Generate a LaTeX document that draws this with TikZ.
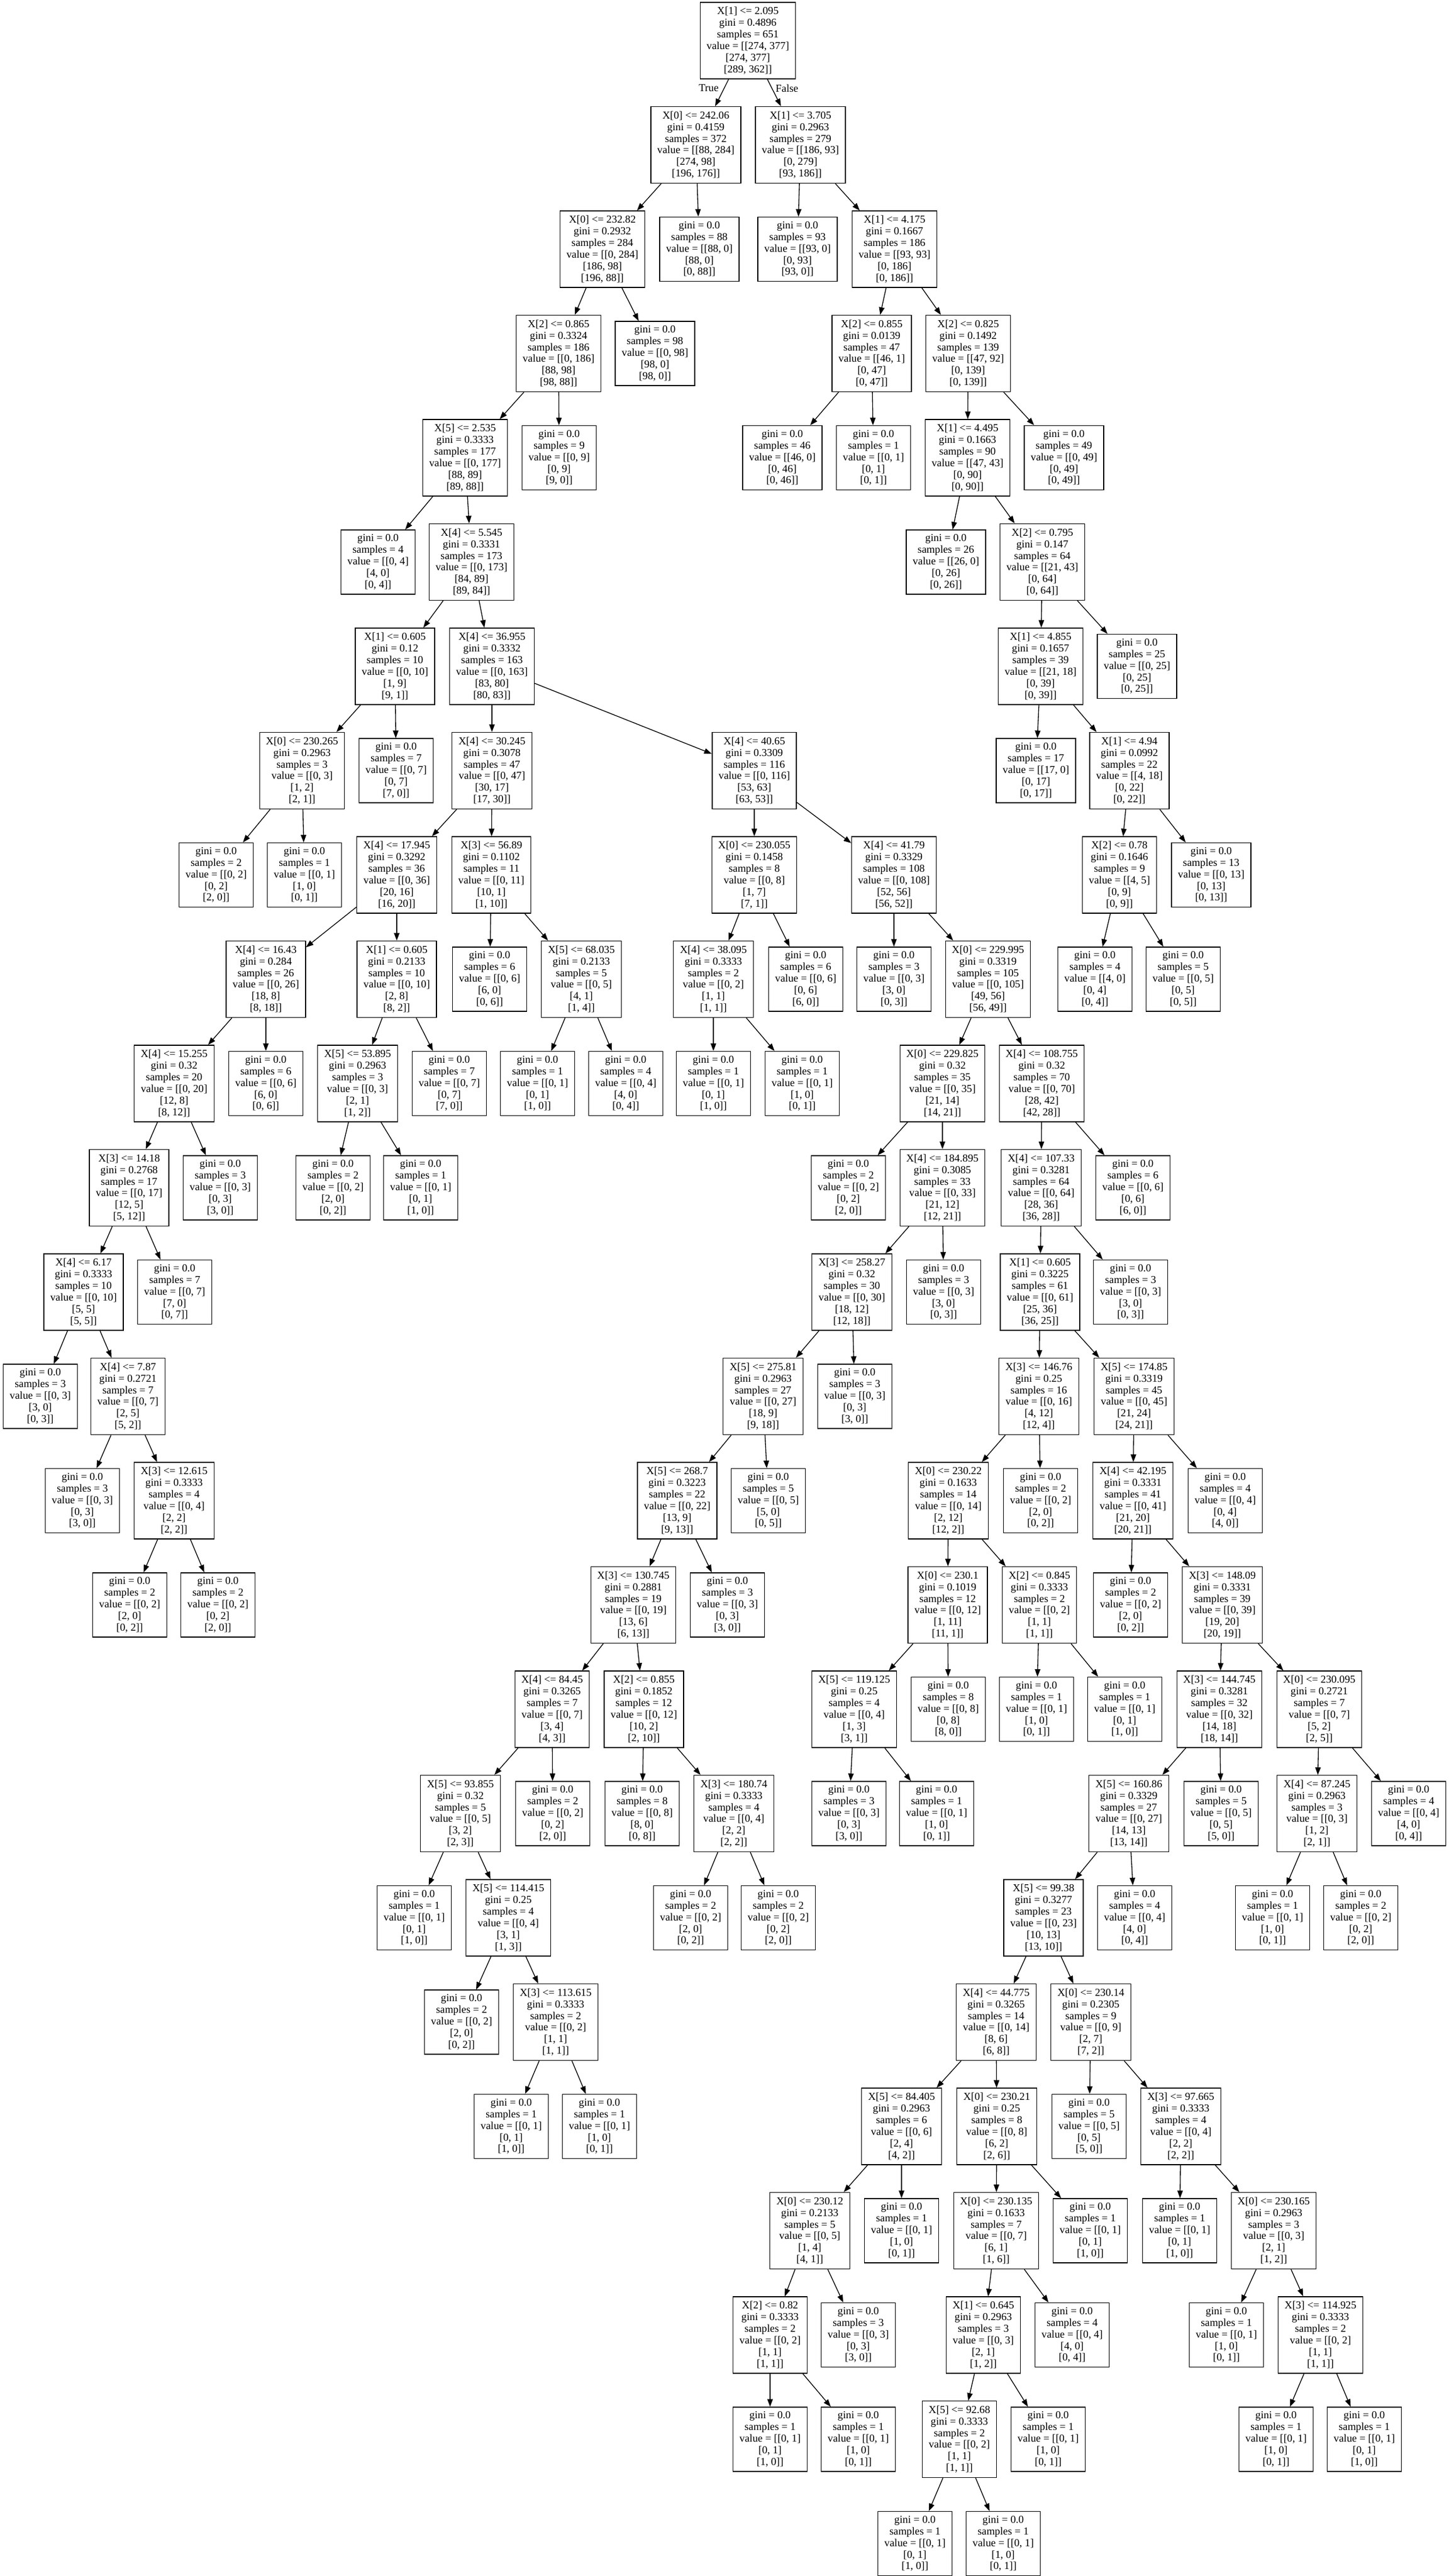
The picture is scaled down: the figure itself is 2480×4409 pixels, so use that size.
\documentclass[tikz,border=0pt]{standalone}
\usepackage{fontspec}
\setmainfont{Liberation Serif}
\usetikzlibrary{arrows.meta}
\def\splitlbl#1#2#3#4#5#6{#1\\gini = #2\\samples = #3\\value = [[#4]\\{}[#5]\\{}[#6]]}
\def\leaflbl#1#2#3#4{gini = 0.0\\samples = #1\\value = [[#2]\\{}[#3]\\{}[#4]]}

\begin{document}
\begin{tikzpicture}[x=0.75pt, y=-0.75pt,
		splitbox/.style={draw, line width=1pt, rectangle, align=center, inner xsep=8.25pt, inner ysep=3pt, minimum height=98.25pt, font=\fontsize{13.7}{14.9}\selectfont},
		leafbox/.style={splitbox, minimum height=82.5pt},
		branch/.style={line width=1pt, -{Triangle[length=9.7pt, width=7pt]}},
		tflabel/.style={inner sep=0pt, font=\fontsize{13.7}{14.9}\selectfont}]
			%%%%% START %%%%%
			
			\useasboundingbox (0, 0) rectangle (2480, 4409);
			
			\node[splitbox] (n0) at (1280, 69.5) {\splitlbl{X[1] <= 2.095}{0.4896}{651}{274, 377}{274, 377}{289, 362}};
			\node[tflabel] (ltrue) at (1213, 151) {True};
			\node[tflabel] (lfalse) at (1347, 151) {False};
			
			\node[splitbox] (n1) at (1191, 248) {\splitlbl{X[0] <= 242.06}{0.4159}{372}{88, 284}{274, 98}{196, 176}};
			\node[splitbox] (n132) at (1370, 248) {\splitlbl{X[1] <= 3.705}{0.2963}{279}{186, 93}{0, 279}{93, 186}};
			
			\node[splitbox] (n2) at (1031, 426.5) {\splitlbl{X[0] <= 232.82}{0.2932}{284}{0, 284}{186, 98}{196, 88}};
			\node[leafbox] (n131) at (1197, 426.5) {\leaflbl{88}{88, 0}{88, 0}{0, 88}};
			\node[leafbox] (n133) at (1365, 426.5) {\leaflbl{93}{93, 0}{0, 93}{93, 0}};
			\node[splitbox] (n134) at (1531, 426.5) {\splitlbl{X[1] <= 4.175}{0.1667}{186}{93, 93}{0, 186}{0, 186}};
			
			\node[splitbox] (n3) at (956, 605) {\splitlbl{X[2] <= 0.865}{0.3324}{186}{0, 186}{88, 98}{98, 88}};
			\node[leafbox] (n130) at (1121, 605) {\leaflbl{98}{0, 98}{98, 0}{98, 0}};
			\node[splitbox] (n135) at (1492, 605) {\splitlbl{X[2] <= 0.855}{0.0139}{47}{46, 1}{0, 47}{0, 47}};
			\node[splitbox] (n138) at (1657, 605) {\splitlbl{X[2] <= 0.825}{0.1492}{139}{47, 92}{0, 139}{0, 139}};
			
			\node[splitbox] (n4) at (796, 783.5) {\splitlbl{X[5] <= 2.535}{0.3333}{177}{0, 177}{88, 89}{89, 88}};
			\node[leafbox] (n129) at (957, 783.5) {\leaflbl{9}{0, 9}{0, 9}{9, 0}};
			\node[leafbox] (n136) at (1339, 783.5) {\leaflbl{46}{46, 0}{0, 46}{0, 46}};
			\node[leafbox] (n137) at (1495, 783.5) {\leaflbl{1}{0, 1}{0, 1}{0, 1}};
			\node[splitbox] (n139) at (1656, 783.5) {\splitlbl{X[1] <= 4.495}{0.1663}{90}{47, 43}{0, 90}{0, 90}};
			\node[leafbox] (n150) at (1821, 783.5) {\leaflbl{49}{0, 49}{0, 49}{0, 49}};
			
			\node[leafbox] (n5) at (647, 962) {\leaflbl{4}{0, 4}{4, 0}{0, 4}};
			\node[splitbox] (n6) at (807, 962) {\splitlbl{X[4] <= 5.545}{0.3331}{173}{0, 173}{84, 89}{89, 84}};
			\node[leafbox] (n140) at (1619, 962) {\leaflbl{26}{26, 0}{0, 26}{0, 26}};
			\node[splitbox] (n141) at (1784, 962) {\splitlbl{X[2] <= 0.795}{0.147}{64}{21, 43}{0, 64}{0, 64}};
			
			\node[splitbox] (n7) at (676, 1140.5) {\splitlbl{X[1] <= 0.605}{0.12}{10}{0, 10}{1, 9}{9, 1}};
			\node[splitbox] (n12) at (842, 1140.5) {\splitlbl{X[4] <= 36.955}{0.3332}{163}{0, 163}{83, 80}{80, 83}};
			\node[splitbox] (n142) at (1781, 1140.5) {\splitlbl{X[1] <= 4.855}{0.1657}{39}{21, 18}{0, 39}{0, 39}};
			\node[leafbox] (n149) at (1946, 1140.5) {\leaflbl{25}{0, 25}{0, 25}{0, 25}};
			
			\node[splitbox] (n8) at (517, 1319) {\splitlbl{X[0] <= 230.265}{0.2963}{3}{0, 3}{1, 2}{2, 1}};
			\node[leafbox] (n11) at (678, 1319) {\leaflbl{7}{0, 7}{0, 7}{7, 0}};
			\node[splitbox] (n13) at (842, 1319) {\splitlbl{X[4] <= 30.245}{0.3078}{47}{0, 47}{30, 17}{17, 30}};
			\node[splitbox] (n38) at (1291, 1319) {\splitlbl{X[4] <= 40.65}{0.3309}{116}{0, 116}{53, 63}{63, 53}};
			\node[leafbox] (n143) at (1773, 1319) {\leaflbl{17}{17, 0}{0, 17}{0, 17}};
			\node[splitbox] (n144) at (1933, 1319) {\splitlbl{X[1] <= 4.94}{0.0992}{22}{4, 18}{0, 22}{0, 22}};
			
			\node[leafbox] (n9) at (370, 1497.5) {\leaflbl{2}{0, 2}{0, 2}{2, 0}};
			\node[leafbox] (n10) at (521, 1497.5) {\leaflbl{1}{0, 1}{1, 0}{0, 1}};
			\node[splitbox] (n14) at (679, 1497.5) {\splitlbl{X[4] <= 17.945}{0.3292}{36}{0, 36}{20, 16}{16, 20}};
			\node[splitbox] (n33) at (841, 1497.5) {\splitlbl{X[3] <= 56.89}{0.1102}{11}{0, 11}{10, 1}{1, 10}};
			\node[splitbox] (n39) at (1291, 1497.5) {\splitlbl{X[0] <= 230.055}{0.1458}{8}{0, 8}{1, 7}{7, 1}};
			\node[splitbox] (n44) at (1530, 1497.5) {\splitlbl{X[4] <= 41.79}{0.3329}{108}{0, 108}{52, 56}{56, 52}};
			\node[splitbox] (n145) at (1916, 1497.5) {\splitlbl{X[2] <= 0.78}{0.1646}{9}{4, 5}{0, 9}{0, 9}};
			\node[leafbox] (n148) at (2073, 1497.5) {\leaflbl{13}{0, 13}{0, 13}{0, 13}};
			
			\node[splitbox] (n15) at (455, 1676) {\splitlbl{X[4] <= 16.43}{0.284}{26}{0, 26}{18, 8}{8, 18}};
			\node[splitbox] (n28) at (679, 1676) {\splitlbl{X[1] <= 0.605}{0.2133}{10}{0, 10}{2, 8}{8, 2}};
			\node[leafbox] (n34) at (838, 1676) {\leaflbl{6}{0, 6}{6, 0}{0, 6}};
			\node[splitbox] (n35) at (995, 1676) {\splitlbl{X[5] <= 68.035}{0.2133}{5}{0, 5}{4, 1}{1, 4}};
			\node[splitbox] (n40) at (1221, 1676) {\splitlbl{X[4] <= 38.095}{0.3333}{2}{0, 2}{1, 1}{1, 1}};
			\node[leafbox] (n43) at (1379, 1676) {\leaflbl{6}{0, 6}{0, 6}{6, 0}};
			\node[leafbox] (n45) at (1530, 1676) {\leaflbl{3}{0, 3}{3, 0}{0, 3}};
			\node[splitbox] (n46) at (1691, 1676) {\splitlbl{X[0] <= 229.995}{0.3319}{105}{0, 105}{49, 56}{56, 49}};
			\node[leafbox] (n146) at (1874, 1676) {\leaflbl{4}{4, 0}{0, 4}{0, 4}};
			\node[leafbox] (n147) at (2025, 1676) {\leaflbl{5}{0, 5}{0, 5}{0, 5}};
			
			\node[splitbox] (n16) at (298, 1854.5) {\splitlbl{X[4] <= 15.255}{0.32}{20}{0, 20}{12, 8}{8, 12}};
			\node[leafbox] (n27) at (455, 1854.5) {\leaflbl{6}{0, 6}{6, 0}{0, 6}};
			\node[splitbox] (n29) at (612, 1854.5) {\splitlbl{X[5] <= 53.895}{0.2963}{3}{0, 3}{2, 1}{1, 2}};
			\node[leafbox] (n32) at (769, 1854.5) {\leaflbl{7}{0, 7}{0, 7}{7, 0}};
			\node[leafbox] (n36) at (920, 1854.5) {\leaflbl{1}{0, 1}{0, 1}{1, 0}};
			\node[leafbox] (n37) at (1071, 1854.5) {\leaflbl{4}{0, 4}{4, 0}{0, 4}};
			\node[leafbox] (n41) at (1221, 1854.5) {\leaflbl{1}{0, 1}{0, 1}{1, 0}};
			\node[leafbox] (n42) at (1373, 1854.5) {\leaflbl{1}{0, 1}{1, 0}{0, 1}};
			\node[splitbox] (n47) at (1613, 1854.5) {\splitlbl{X[0] <= 229.825}{0.32}{35}{0, 35}{21, 14}{14, 21}};
			\node[splitbox] (n72) at (1783, 1854.5) {\splitlbl{X[4] <= 108.755}{0.32}{70}{0, 70}{28, 42}{42, 28}};
			
			\node[splitbox] (n17) at (221, 2033) {\splitlbl{X[3] <= 14.18}{0.2768}{17}{0, 17}{12, 5}{5, 12}};
			\node[leafbox] (n26) at (377, 2033) {\leaflbl{3}{0, 3}{0, 3}{3, 0}};
			\node[leafbox] (n30) at (570, 2033) {\leaflbl{2}{0, 2}{2, 0}{0, 2}};
			\node[leafbox] (n31) at (720, 2033) {\leaflbl{1}{0, 1}{0, 1}{1, 0}};
			\node[leafbox] (n48) at (1452, 2033) {\leaflbl{2}{0, 2}{0, 2}{2, 0}};
			\node[splitbox] (n49) at (1613, 2033) {\splitlbl{X[4] <= 184.895}{0.3085}{33}{0, 33}{21, 12}{12, 21}};
			\node[splitbox] (n73) at (1782, 2033) {\splitlbl{X[4] <= 107.33}{0.3281}{64}{0, 64}{28, 36}{36, 28}};
			\node[leafbox] (n128) at (1939, 2033) {\leaflbl{6}{0, 6}{0, 6}{6, 0}};
			
			\node[splitbox] (n18) at (143, 2211.5) {\splitlbl{X[4] <= 6.17}{0.3333}{10}{0, 10}{5, 5}{5, 5}};
			\node[leafbox] (n25) at (299, 2211.5) {\leaflbl{7}{0, 7}{7, 0}{0, 7}};
			\node[splitbox] (n50) at (1458, 2211.5) {\splitlbl{X[3] <= 258.27}{0.32}{30}{0, 30}{18, 12}{12, 18}};
			\node[leafbox] (n71) at (1615, 2211.5) {\leaflbl{3}{0, 3}{3, 0}{0, 3}};
			\node[splitbox] (n74) at (1780, 2211.5) {\splitlbl{X[1] <= 0.605}{0.3225}{61}{0, 61}{25, 36}{36, 25}};
			\node[leafbox] (n127) at (1935, 2211.5) {\leaflbl{3}{0, 3}{3, 0}{0, 3}};
			
			\node[leafbox] (n19) at (69, 2390) {\leaflbl{3}{0, 3}{3, 0}{0, 3}};
			\node[splitbox] (n20) at (219, 2390) {\splitlbl{X[4] <= 7.87}{0.2721}{7}{0, 7}{2, 5}{5, 2}};
			\node[splitbox] (n51) at (1306, 2390) {\splitlbl{X[5] <= 275.81}{0.2963}{27}{0, 27}{18, 9}{9, 18}};
			\node[leafbox] (n70) at (1463, 2390) {\leaflbl{3}{0, 3}{0, 3}{3, 0}};
			\node[splitbox] (n75) at (1778, 2390) {\splitlbl{X[3] <= 146.76}{0.25}{16}{0, 16}{4, 12}{12, 4}};
			\node[splitbox] (n86) at (1941, 2390) {\splitlbl{X[5] <= 174.85}{0.3319}{45}{0, 45}{21, 24}{24, 21}};
			
			\node[leafbox] (n21) at (141, 2568.5) {\leaflbl{3}{0, 3}{0, 3}{3, 0}};
			\node[splitbox] (n22) at (298, 2568.5) {\splitlbl{X[3] <= 12.615}{0.3333}{4}{0, 4}{2, 2}{2, 2}};
			\node[splitbox] (n52) at (1159, 2568.5) {\splitlbl{X[5] <= 268.7}{0.3223}{22}{0, 22}{13, 9}{9, 13}};
			\node[leafbox] (n69) at (1315, 2568.5) {\leaflbl{5}{0, 5}{5, 0}{0, 5}};
			\node[splitbox] (n76) at (1623, 2568.5) {\splitlbl{X[0] <= 230.22}{0.1633}{14}{0, 14}{2, 12}{12, 2}};
			\node[leafbox] (n85) at (1781, 2568.5) {\leaflbl{2}{0, 2}{2, 0}{0, 2}};
			\node[splitbox] (n87) at (1939, 2568.5) {\splitlbl{X[4] <= 42.195}{0.3331}{41}{0, 41}{21, 20}{20, 21}};
			\node[leafbox] (n126) at (2097, 2568.5) {\leaflbl{4}{0, 4}{0, 4}{4, 0}};
			
			\node[leafbox] (n23) at (222, 2747) {\leaflbl{2}{0, 2}{2, 0}{0, 2}};
			\node[leafbox] (n24) at (373, 2747) {\leaflbl{2}{0, 2}{0, 2}{2, 0}};
			\node[splitbox] (n53) at (1084, 2747) {\splitlbl{X[3] <= 130.745}{0.2881}{19}{0, 19}{13, 6}{6, 13}};
			\node[leafbox] (n68) at (1245, 2747) {\leaflbl{3}{0, 3}{0, 3}{3, 0}};
			\node[splitbox] (n77) at (1622, 2747) {\splitlbl{X[0] <= 230.1}{0.1019}{12}{0, 12}{1, 11}{11, 1}};
			\node[splitbox] (n82) at (1779, 2747) {\splitlbl{X[2] <= 0.845}{0.3333}{2}{0, 2}{1, 1}{1, 1}};
			\node[leafbox] (n88) at (1935, 2747) {\leaflbl{2}{0, 2}{2, 0}{0, 2}};
			\node[splitbox] (n89) at (2092, 2747) {\splitlbl{X[3] <= 148.09}{0.3331}{39}{0, 39}{19, 20}{20, 19}};
			
			\node[splitbox] (n54) at (945, 2925.5) {\splitlbl{X[4] <= 84.45}{0.3265}{7}{0, 7}{3, 4}{4, 3}};
			\node[splitbox] (n63) at (1102, 2925.5) {\splitlbl{X[2] <= 0.855}{0.1852}{12}{0, 12}{10, 2}{2, 10}};
			\node[splitbox] (n78) at (1462, 2925.5) {\splitlbl{X[5] <= 119.125}{0.25}{4}{0, 4}{1, 3}{3, 1}};
			\node[leafbox] (n81) at (1623, 2925.5) {\leaflbl{8}{0, 8}{0, 8}{8, 0}};
			\node[leafbox] (n83) at (1774, 2925.5) {\leaflbl{1}{0, 1}{1, 0}{0, 1}};
			\node[leafbox] (n84) at (1925, 2925.5) {\leaflbl{1}{0, 1}{0, 1}{1, 0}};
			\node[splitbox] (n90) at (2087, 2925.5) {\splitlbl{X[3] <= 144.745}{0.3281}{32}{0, 32}{14, 18}{18, 14}};
			\node[splitbox] (n121) at (2258, 2925.5) {\splitlbl{X[0] <= 230.095}{0.2721}{7}{0, 7}{5, 2}{2, 5}};
			
			\node[splitbox] (n55) at (788, 3104) {\splitlbl{X[5] <= 93.855}{0.32}{5}{0, 5}{3, 2}{2, 3}};
			\node[leafbox] (n62) at (946, 3104) {\leaflbl{2}{0, 2}{0, 2}{2, 0}};
			\node[leafbox] (n64) at (1099, 3104) {\leaflbl{8}{0, 8}{8, 0}{0, 8}};
			\node[splitbox] (n65) at (1256, 3104) {\splitlbl{X[3] <= 180.74}{0.3333}{4}{0, 4}{2, 2}{2, 2}};
			\node[leafbox] (n79) at (1453, 3104) {\leaflbl{3}{0, 3}{0, 3}{3, 0}};
			\node[leafbox] (n80) at (1603, 3104) {\leaflbl{1}{0, 1}{1, 0}{0, 1}};
			\node[splitbox] (n91) at (1932, 3104) {\splitlbl{X[5] <= 160.86}{0.3329}{27}{0, 27}{14, 13}{13, 14}};
			\node[leafbox] (n120) at (2090, 3104) {\leaflbl{5}{0, 5}{0, 5}{5, 0}};
			\node[splitbox] (n122) at (2254, 3104) {\splitlbl{X[4] <= 87.245}{0.2963}{3}{0, 3}{1, 2}{2, 1}};
			\node[leafbox] (n125) at (2411, 3104) {\leaflbl{4}{0, 4}{4, 0}{0, 4}};
			
			\node[leafbox] (n56) at (709, 3282.5) {\leaflbl{1}{0, 1}{0, 1}{1, 0}};
			\node[splitbox] (n57) at (870, 3282.5) {\splitlbl{X[5] <= 114.415}{0.25}{4}{0, 4}{3, 1}{1, 3}};
			\node[leafbox] (n66) at (1182, 3282.5) {\leaflbl{2}{0, 2}{2, 0}{0, 2}};
			\node[leafbox] (n67) at (1332, 3282.5) {\leaflbl{2}{0, 2}{0, 2}{2, 0}};
			\node[splitbox] (n92) at (1786, 3282.5) {\splitlbl{X[5] <= 99.38}{0.3277}{23}{0, 23}{10, 13}{13, 10}};
			\node[leafbox] (n119) at (1942, 3282.5) {\leaflbl{4}{0, 4}{4, 0}{0, 4}};
			\node[leafbox] (n123) at (2178, 3282.5) {\leaflbl{1}{0, 1}{1, 0}{0, 1}};
			\node[leafbox] (n124) at (2329, 3282.5) {\leaflbl{2}{0, 2}{0, 2}{2, 0}};
			
			\node[leafbox] (n58) at (790, 3461) {\leaflbl{2}{0, 2}{2, 0}{0, 2}};
			\node[splitbox] (n59) at (951, 3461) {\splitlbl{X[3] <= 113.615}{0.3333}{2}{0, 2}{1, 1}{1, 1}};
			\node[splitbox] (n93) at (1705, 3461) {\splitlbl{X[4] <= 44.775}{0.3265}{14}{0, 14}{8, 6}{6, 8}};
			\node[splitbox] (n110) at (1867, 3461) {\splitlbl{X[0] <= 230.14}{0.2305}{9}{0, 9}{2, 7}{7, 2}};
			
			\node[leafbox] (n60) at (875, 3639.5) {\leaflbl{1}{0, 1}{0, 1}{1, 0}};
			\node[leafbox] (n61) at (1026, 3639.5) {\leaflbl{1}{0, 1}{1, 0}{0, 1}};
			\node[splitbox] (n94) at (1543, 3639.5) {\splitlbl{X[5] <= 84.405}{0.2963}{6}{0, 6}{2, 4}{4, 2}};
			\node[splitbox] (n101) at (1706, 3639.5) {\splitlbl{X[0] <= 230.21}{0.25}{8}{0, 8}{6, 2}{2, 6}};
			\node[leafbox] (n111) at (1864, 3639.5) {\leaflbl{5}{0, 5}{0, 5}{5, 0}};
			\node[splitbox] (n112) at (2021, 3639.5) {\splitlbl{X[3] <= 97.665}{0.3333}{4}{0, 4}{2, 2}{2, 2}};
			
			\node[splitbox] (n95) at (1386, 3818) {\splitlbl{X[0] <= 230.12}{0.2133}{5}{0, 5}{1, 4}{4, 1}};
			\node[leafbox] (n100) at (1543, 3818) {\leaflbl{1}{0, 1}{1, 0}{0, 1}};
			\node[splitbox] (n102) at (1705, 3818) {\splitlbl{X[0] <= 230.135}{0.1633}{7}{0, 7}{6, 1}{1, 6}};
			\node[leafbox] (n109) at (1866, 3818) {\leaflbl{1}{0, 1}{0, 1}{1, 0}};
			\node[leafbox] (n113) at (2019, 3818) {\leaflbl{1}{0, 1}{0, 1}{1, 0}};
			\node[splitbox] (n114) at (2180, 3818) {\splitlbl{X[0] <= 230.165}{0.2963}{3}{0, 3}{2, 1}{1, 2}};
			
			\node[splitbox] (n96) at (1318, 3996.5) {\splitlbl{X[2] <= 0.82}{0.3333}{2}{0, 2}{1, 1}{1, 1}};
			\node[leafbox] (n99) at (1469, 3996.5) {\leaflbl{3}{0, 3}{0, 3}{3, 0}};
			\node[splitbox] (n103) at (1683, 3996.5) {\splitlbl{X[1] <= 0.645}{0.2963}{3}{0, 3}{2, 1}{1, 2}};
			\node[leafbox] (n108) at (1835, 3996.5) {\leaflbl{4}{0, 4}{4, 0}{0, 4}};
			\node[leafbox] (n115) at (2099, 3996.5) {\leaflbl{1}{0, 1}{1, 0}{0, 1}};
			\node[splitbox] (n116) at (2260, 3996.5) {\splitlbl{X[3] <= 114.925}{0.3333}{2}{0, 2}{1, 1}{1, 1}};
			
			\node[leafbox] (n97) at (1318, 4175) {\leaflbl{1}{0, 1}{0, 1}{1, 0}};
			\node[leafbox] (n98) at (1469, 4175) {\leaflbl{1}{0, 1}{1, 0}{0, 1}};
			\node[splitbox] (n104) at (1642, 4175) {\splitlbl{X[5] <= 92.68}{0.3333}{2}{0, 2}{1, 1}{1, 1}};
			\node[leafbox] (n107) at (1794, 4175) {\leaflbl{1}{0, 1}{1, 0}{0, 1}};
			\node[leafbox] (n117) at (2184, 4175) {\leaflbl{1}{0, 1}{1, 0}{0, 1}};
			\node[leafbox] (n118) at (2335, 4175) {\leaflbl{1}{0, 1}{0, 1}{1, 0}};
			
			\node[leafbox] (n105) at (1566, 4353.5) {\leaflbl{1}{0, 1}{0, 1}{1, 0}};
			\node[leafbox] (n106) at (1717, 4353.5) {\leaflbl{1}{0, 1}{1, 0}{0, 1}};
			
			% branches
			\draw[branch] (n0) -- (n1); \draw[branch] (n0) -- (n132);
			\draw[branch] (n1) -- (n2); \draw[branch] (n1) -- (n131);
			\draw[branch] (n2) -- (n3); \draw[branch] (n2) -- (n130);
			\draw[branch] (n3) -- (n4); \draw[branch] (n3) -- (n129);
			\draw[branch] (n4) -- (n5); \draw[branch] (n4) -- (n6);
			\draw[branch] (n6) -- (n7); \draw[branch] (n6) -- (n12);
			\draw[branch] (n7) -- (n8); \draw[branch] (n7) -- (n11);
			\draw[branch] (n8) -- (n9); \draw[branch] (n8) -- (n10);
			\draw[branch] (n12) -- (n13); \draw[branch] (n12) -- (n38);
			\draw[branch] (n13) -- (n14); \draw[branch] (n13) -- (n33);
			\draw[branch] (n14) -- (n15); \draw[branch] (n14) -- (n28);
			\draw[branch] (n15) -- (n16); \draw[branch] (n15) -- (n27);
			\draw[branch] (n16) -- (n17); \draw[branch] (n16) -- (n26);
			\draw[branch] (n17) -- (n18); \draw[branch] (n17) -- (n25);
			\draw[branch] (n18) -- (n19); \draw[branch] (n18) -- (n20);
			\draw[branch] (n20) -- (n21); \draw[branch] (n20) -- (n22);
			\draw[branch] (n22) -- (n23); \draw[branch] (n22) -- (n24);
			\draw[branch] (n28) -- (n29); \draw[branch] (n28) -- (n32);
			\draw[branch] (n29) -- (n30); \draw[branch] (n29) -- (n31);
			\draw[branch] (n33) -- (n34); \draw[branch] (n33) -- (n35);
			\draw[branch] (n35) -- (n36); \draw[branch] (n35) -- (n37);
			\draw[branch] (n38) -- (n39); \draw[branch] (n38) -- (n44);
			\draw[branch] (n39) -- (n40); \draw[branch] (n39) -- (n43);
			\draw[branch] (n40) -- (n41); \draw[branch] (n40) -- (n42);
			\draw[branch] (n44) -- (n45); \draw[branch] (n44) -- (n46);
			\draw[branch] (n46) -- (n47); \draw[branch] (n46) -- (n72);
			\draw[branch] (n47) -- (n48); \draw[branch] (n47) -- (n49);
			\draw[branch] (n49) -- (n50); \draw[branch] (n49) -- (n71);
			\draw[branch] (n50) -- (n51); \draw[branch] (n50) -- (n70);
			\draw[branch] (n51) -- (n52); \draw[branch] (n51) -- (n69);
			\draw[branch] (n52) -- (n53); \draw[branch] (n52) -- (n68);
			\draw[branch] (n53) -- (n54); \draw[branch] (n53) -- (n63);
			\draw[branch] (n54) -- (n55); \draw[branch] (n54) -- (n62);
			\draw[branch] (n55) -- (n56); \draw[branch] (n55) -- (n57);
			\draw[branch] (n57) -- (n58); \draw[branch] (n57) -- (n59);
			\draw[branch] (n59) -- (n60); \draw[branch] (n59) -- (n61);
			\draw[branch] (n63) -- (n64); \draw[branch] (n63) -- (n65);
			\draw[branch] (n65) -- (n66); \draw[branch] (n65) -- (n67);
			\draw[branch] (n72) -- (n73); \draw[branch] (n72) -- (n128);
			\draw[branch] (n73) -- (n74); \draw[branch] (n73) -- (n127);
			\draw[branch] (n74) -- (n75); \draw[branch] (n74) -- (n86);
			\draw[branch] (n75) -- (n76); \draw[branch] (n75) -- (n85);
			\draw[branch] (n76) -- (n77); \draw[branch] (n76) -- (n82);
			\draw[branch] (n77) -- (n78); \draw[branch] (n77) -- (n81);
			\draw[branch] (n78) -- (n79); \draw[branch] (n78) -- (n80);
			\draw[branch] (n82) -- (n83); \draw[branch] (n82) -- (n84);
			\draw[branch] (n86) -- (n87); \draw[branch] (n86) -- (n126);
			\draw[branch] (n87) -- (n88); \draw[branch] (n87) -- (n89);
			\draw[branch] (n89) -- (n90); \draw[branch] (n89) -- (n121);
			\draw[branch] (n90) -- (n91); \draw[branch] (n90) -- (n120);
			\draw[branch] (n91) -- (n92); \draw[branch] (n91) -- (n119);
			\draw[branch] (n92) -- (n93); \draw[branch] (n92) -- (n110);
			\draw[branch] (n93) -- (n94); \draw[branch] (n93) -- (n101);
			\draw[branch] (n94) -- (n95); \draw[branch] (n94) -- (n100);
			\draw[branch] (n95) -- (n96); \draw[branch] (n95) -- (n99);
			\draw[branch] (n96) -- (n97); \draw[branch] (n96) -- (n98);
			\draw[branch] (n101) -- (n102); \draw[branch] (n101) -- (n109);
			\draw[branch] (n102) -- (n103); \draw[branch] (n102) -- (n108);
			\draw[branch] (n103) -- (n104); \draw[branch] (n103) -- (n107);
			\draw[branch] (n104) -- (n105); \draw[branch] (n104) -- (n106);
			\draw[branch] (n110) -- (n111); \draw[branch] (n110) -- (n112);
			\draw[branch] (n112) -- (n113); \draw[branch] (n112) -- (n114);
			\draw[branch] (n114) -- (n115); \draw[branch] (n114) -- (n116);
			\draw[branch] (n116) -- (n117); \draw[branch] (n116) -- (n118);
			\draw[branch] (n121) -- (n122); \draw[branch] (n121) -- (n125);
			\draw[branch] (n122) -- (n123); \draw[branch] (n122) -- (n124);
			\draw[branch] (n132) -- (n133); \draw[branch] (n132) -- (n134);
			\draw[branch] (n134) -- (n135); \draw[branch] (n134) -- (n138);
			\draw[branch] (n135) -- (n136); \draw[branch] (n135) -- (n137);
			\draw[branch] (n138) -- (n139); \draw[branch] (n138) -- (n150);
			\draw[branch] (n139) -- (n140); \draw[branch] (n139) -- (n141);
			\draw[branch] (n141) -- (n142); \draw[branch] (n141) -- (n149);
			\draw[branch] (n142) -- (n143); \draw[branch] (n142) -- (n144);
			\draw[branch] (n144) -- (n145); \draw[branch] (n144) -- (n148);
			\draw[branch] (n145) -- (n146); \draw[branch] (n145) -- (n147);
			
			%%%%% END %%%%%
\end{tikzpicture}
\end{document}
